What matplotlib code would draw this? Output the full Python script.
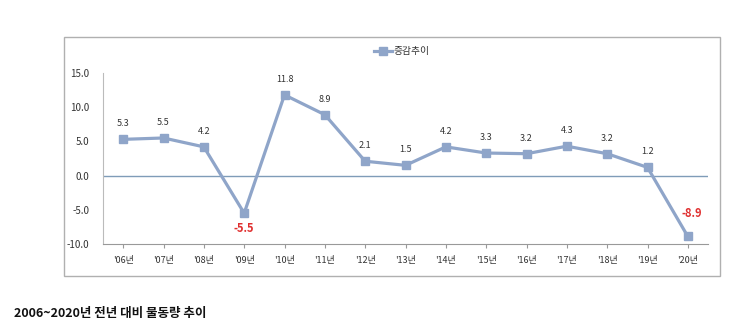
import matplotlib.pyplot as plt
from matplotlib.patches import Rectangle

plt.rcParams['font.family'] = ['Noto Sans CJK KR', 'DejaVu Sans']

years = ["'06년", "'07년", "'08년", "'09년", "'10년", "'11년", "'12년", "'13년",
         "'14년", "'15년", "'16년", "'17년", "'18년", "'19년", "'20년"]
change = [5.3, 5.5, 4.2, -5.5, 11.8, 8.9, 2.1, 1.5, 4.2, 3.3, 3.2, 4.3, 3.2, 1.2, -8.9]
yticks = [-10.0, -5.0, 0.0, 5.0, 10.0, 15.0]

line_color = '#8fa5c9'

fig = plt.figure(figsize=(7.5, 3.23), dpi=100)

# outer chart frame
fig.patches.append(Rectangle((64 / 750, 1 - 276 / 323), (720 - 64) / 750, (276 - 37) / 323,
                             transform=fig.transFigure, fill=False,
                             edgecolor='#b0b0b0', linewidth=1.0))

ax = fig.add_axes([103 / 750, 1 - 244 / 323, (708 - 103) / 750, (244 - 73) / 323])
x = list(range(len(years)))
ax.plot(x, change, color=line_color, linewidth=2.3, marker='s', markersize=6,
        markerfacecolor=line_color, markeredgecolor=line_color, label='증감추이', zorder=3)
ax.axhline(0, color='#7f9cb8', linewidth=1.0, zorder=1)

ax.set_xlim(-0.5, len(years) - 0.5)
ax.set_ylim(-10, 15)
ax.set_yticks(yticks)
ax.set_yticklabels([f'{v:.1f}' for v in yticks], fontsize=7, color='#333333')
ax.set_xticks(x)
ax.set_xticklabels(years, fontsize=6.5, color='#333333')
ax.tick_params(axis='x', length=3, color='#999999', pad=6)
ax.tick_params(axis='y', length=0, pad=10)
for s in ['top', 'right']:
    ax.spines[s].set_visible(False)
ax.spines['left'].set_color('#bbbbbb')
ax.spines['bottom'].set_color('#999999')

for xi, v in zip(x, change):
    if v >= 0:
        ax.annotate(f'{v:.1f}', (xi, v), xytext=(0, 8), textcoords='offset points',
                    ha='center', va='bottom', fontsize=6.5, color='#333333')
    elif xi == len(years) - 1:
        ax.annotate(f'{v:.1f}', (xi, v), xytext=(3, 12), textcoords='offset points',
                    ha='center', va='bottom', fontsize=8, color='#e03030', fontweight='bold')
    else:
        ax.annotate(f'{v:.1f}', (xi, v), xytext=(0, -6), textcoords='offset points',
                    ha='center', va='top', fontsize=8, color='#e03030', fontweight='bold')

ax.legend(loc='center', bbox_to_anchor=(402 / 750, 1 - 51 / 323), bbox_transform=fig.transFigure,
          frameon=False, fontsize=7, handlelength=1.8, handletextpad=0.2,
          labelcolor='#333333', markerscale=0.85)

fig.text(14 / 750, 1 - 313 / 323, '2006~2020년 전년 대비 물동량 추이', fontsize=9,
         fontweight='bold', color='#111111', va='center', ha='left')

fig.savefig('out.png', dpi=100, facecolor='white')
